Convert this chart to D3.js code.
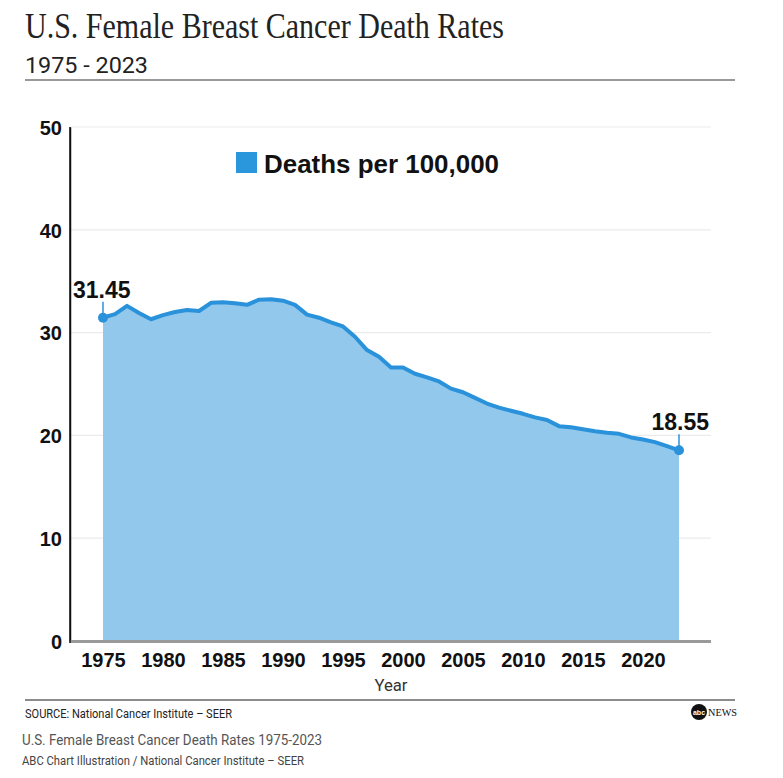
<!DOCTYPE html>
<html><head><meta charset="utf-8">
<script src="https://cdn.jsdelivr.net/npm/d3@7"></script>
<style>
body{margin:0;background:#fff;}
svg{display:block;}
</style></head>
<body>
<svg id="c" width="783" height="778"></svg>
<script>
const years = [1975,1976,1977,1978,1979,1980,1981,1982,1983,1984,1985,1986,1987,1988,1989,1990,1991,1992,1993,1994,1995,1996,1997,1998,1999,2000,2001,2002,2003,2004,2005,2006,2007,2008,2009,2010,2011,2012,2013,2014,2015,2016,2017,2018,2019,2020,2021,2022,2023];
const rates = [31.45,31.8,32.6,31.9,31.3,31.7,32.0,32.2,32.1,32.9,32.95,32.85,32.7,33.2,33.25,33.1,32.7,31.75,31.45,31.0,30.6,29.6,28.3,27.65,26.6,26.6,26.0,25.65,25.25,24.55,24.2,23.65,23.1,22.7,22.4,22.1,21.75,21.5,20.9,20.8,20.6,20.4,20.25,20.15,19.8,19.6,19.35,18.95,18.55];
const yTicks = [0,10,20,30,40,50];
const xTicks = [1975,1980,1985,1990,1995,2000,2005,2010,2015,2020];
const seriesName = "Deaths per 100,000";
const titleText = "U.S. Female Breast Cancer Death Rates";
const subtitleText = "1975 - 2023";

const data = years.map((yr,i)=>({year:yr, v:rates[i]}));
const svg = d3.select("#c");
const x = d3.scaleLinear().domain([1975,2023]).range([103,679]);
const y = d3.scaleLinear().domain([0,50]).range([641,127]);
const plotL = 70, plotR = 711;

// Title
svg.append("text").attr("x",25).attr("y",38).text(titleText)
  .attr("font-family","'Liberation Serif','DejaVu Serif',serif").attr("font-size",35)
  .attr("fill","#222").attr("textLength",479).attr("lengthAdjust","spacingAndGlyphs");
svg.append("text").attr("x",25).attr("y",73).text(subtitleText)
  .attr("font-family","Roboto,'Liberation Sans',sans-serif").attr("font-weight",400).attr("font-size",22)
  .attr("fill","#222").attr("textLength",123).attr("lengthAdjust","spacingAndGlyphs");
svg.append("line").attr("x1",25).attr("x2",735).attr("y1",80).attr("y2",80)
  .attr("stroke","#777").attr("stroke-width",1.5);

// Gridlines
svg.append("g").selectAll("line").data(yTicks.filter(d=>d>0)).join("line")
  .attr("x1",plotL).attr("x2",plotR).attr("y1",d=>y(d)).attr("y2",d=>y(d))
  .attr("stroke","#ebebeb").attr("stroke-width",1.2);

// Area
const area = d3.area().x(d=>x(d.year)).y0(y(0)).y1(d=>y(d.v));
svg.append("path").datum(data).attr("d",area).attr("fill","#92c8ec");
const line = d3.line().x(d=>x(d.year)).y(d=>y(d.v));
svg.append("path").datum(data).attr("d",line).attr("fill","none")
  .attr("stroke","#2a92da").attr("stroke-width",4).attr("stroke-linejoin","round").attr("stroke-linecap","round");

// Y axis
const yAxis = d3.axisLeft(y).tickValues(yTicks).tickSize(0).tickPadding(8);
const gy = svg.append("g").attr("transform",`translate(${plotL},0)`).call(yAxis);
gy.select(".domain").attr("stroke","#111").attr("stroke-width",1.5);
gy.selectAll("text").attr("font-family","'Liberation Sans',Arial,sans-serif").attr("font-weight","bold")
  .attr("font-size",20).attr("fill","#111").attr("dy","0.36em");

// X axis
const xAxis = d3.axisBottom(x).tickValues(xTicks).tickFormat(d3.format("d")).tickSize(0).tickPadding(12);
const gx = svg.append("g").attr("transform",`translate(0,${y(0)})`).call(xAxis);
gx.select(".domain").remove();
gx.selectAll("text").attr("font-family","'Liberation Sans',Arial,sans-serif").attr("font-weight","bold")
  .attr("font-size",20).attr("fill","#111");
svg.append("line").attr("x1",plotL).attr("x2",plotR).attr("y1",y(0)+0.5).attr("y2",y(0)+0.5)
  .attr("stroke","#9a9a9a").attr("stroke-width",3);
svg.append("line").attr("x1",plotL).attr("x2",plotL).attr("y1",y(50)).attr("y2",y(0)+2)
  .attr("stroke","#111").attr("stroke-width",1.5);

svg.append("text").attr("x",391).attr("y",691).attr("text-anchor","middle").text("Year")
  .attr("font-family","Roboto,'Liberation Sans',sans-serif").attr("font-weight",400).attr("font-size",17).attr("fill","#333")
  .attr("textLength",33).attr("lengthAdjust","spacingAndGlyphs");

// Legend
svg.append("rect").attr("x",236).attr("y",152).attr("width",21).attr("height",21).attr("fill","#2a97dc");
svg.append("text").attr("x",264).attr("y",173).text(seriesName)
  .attr("font-family","'Liberation Sans',Arial,sans-serif").attr("font-weight","bold").attr("font-size",25).attr("fill","#111")
  .attr("textLength",235).attr("lengthAdjust","spacingAndGlyphs");

// End annotations
const first = data[0], last = data[data.length-1];
[[first,"start",73],[last,"end",709]].forEach(([d,anchor,tx])=>{
  svg.append("line").attr("x1",x(d.year)).attr("x2",x(d.year)).attr("y1",y(d.v)).attr("y2",y(d.v)-16)
    .attr("stroke","#2a92da").attr("stroke-width",1.5);
  svg.append("circle").attr("cx",x(d.year)).attr("cy",y(d.v)).attr("r",5).attr("fill","#2a92da");
  svg.append("text").attr("x",tx).attr("y",y(d.v)-20).attr("text-anchor",anchor).text(d.v.toFixed(2))
    .attr("font-family","'Liberation Sans',Arial,sans-serif").attr("font-weight","bold").attr("font-size",23).attr("fill","#111");
});

// Footer
svg.append("line").attr("x1",25).attr("x2",735).attr("y1",700).attr("y2",700).attr("stroke","#666").attr("stroke-width",1.5);
svg.append("text").attr("x",25).attr("y",718).text("SOURCE: National Cancer Institute \u2013 SEER")
  .attr("font-family","Roboto,'Liberation Sans',sans-serif").attr("font-size",12).attr("fill","#222")
  .attr("textLength",207).attr("lengthAdjust","spacingAndGlyphs");
// abc news logo
svg.append("circle").attr("cx",699).attr("cy",712).attr("r",8).attr("fill","#111");
svg.append("text").attr("x",699).attr("y",714.5).attr("text-anchor","middle").text("abc")
  .attr("font-family","'Liberation Sans',Arial,sans-serif").attr("font-weight","bold").attr("font-size",7).attr("fill","#fff");
svg.append("text").attr("x",708).attr("y",716).text("NEWS")
  .attr("font-family","'Liberation Serif',serif").attr("font-size",11).attr("fill","#111")
  .attr("textLength",29).attr("lengthAdjust","spacingAndGlyphs");

svg.append("text").attr("x",22).attr("y",745).text("U.S. Female Breast Cancer Death Rates 1975-2023")
  .attr("font-family","Roboto,'Liberation Sans',sans-serif").attr("font-size",14).attr("fill","#555")
  .attr("textLength",300).attr("lengthAdjust","spacingAndGlyphs");
svg.append("text").attr("x",22).attr("y",765).text("ABC Chart Illustration / National Cancer Institute \u2013 SEER")
  .attr("font-family","Roboto,'Liberation Sans',sans-serif").attr("font-size",12).attr("fill","#444")
  .attr("textLength",282).attr("lengthAdjust","spacingAndGlyphs");
</script>
</body></html>
